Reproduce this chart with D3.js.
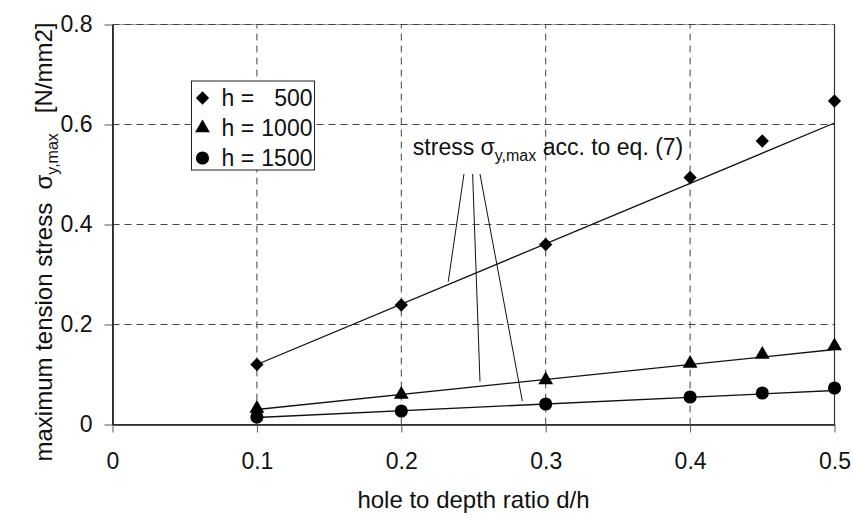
<!DOCTYPE html>
<html lang="en">
<head>
<meta charset="UTF-8">
<title>stress vs hole ratio</title>
<style>
  body { margin: 0; background: #fff; }
  text { font-family: Arial, "Liberation Sans", sans-serif; fill: #111; }
</style>
</head>
<body>
<script src="https://d3js.org/d3.v7.min.js"></script>
<script>
// values
const ratios = [0.1, 0.2, 0.3, 0.4, 0.45, 0.5];
const h500 = [0.12, 0.239, 0.36, 0.494, 0.567, 0.647];
const h1000 = [0.032, 0.06, 0.089, 0.122, 0.14, 0.157];
const h1500 = [0.015, 0.027, 0.041, 0.055, 0.063, 0.073];

// eq. (7) lines, value at d/h = 0.1 and 0.5
const eqRatios = [0.1, 0.5];
const eq500 = [0.12, 0.603];
const eq1000 = [0.03, 0.15];
const eq1500 = [0.014, 0.068];

const heights = [500, 1000, 1500];
const xTicks = [0, 0.1, 0.2, 0.3, 0.4, 0.5];
const yTicks = [0, 0.2, 0.4, 0.6, 0.8];

// leader lines of the note, from the text down to each line (d/h, stress)
const leaders = [
  [[0.2434, 0.501], [0.2325, 0.2856]],
  [[0.2494, 0.501], [0.2545, 0.0856]],
  [[0.2545, 0.501], [0.2838, 0.047]]
];

const width = 853, height = 518;
const fs = 23;

const svg = d3.create('svg')
  .attr('width', width)
  .attr('height', height);

const x = d3.scaleLinear().domain([0, 0.5]).range([112.5, 834.5]);
const y = d3.scaleLinear().domain([0, 0.8]).range([424.5, 24.5]);

// plot frame
svg.append('rect')
  .attr('x', x(0)).attr('y', y(0.8))
  .attr('width', x(0.5) - x(0)).attr('height', y(0) - y(0.8))
  .attr('fill', 'none').attr('stroke', '#999').attr('stroke-width', 1);

// dashed grid
svg.append('g').selectAll('line')
  .data(yTicks.filter(d => d > 0))
  .join('line')
    .attr('x1', x(0)).attr('x2', x(0.5))
    .attr('y1', d => y(d)).attr('y2', d => y(d))
    .attr('stroke', '#444').attr('stroke-dasharray', '7,5');
svg.append('g').selectAll('line')
  .data(xTicks.filter(d => d > 0))
  .join('line')
    .attr('x1', d => x(d)).attr('x2', d => x(d))
    .attr('y1', y(0)).attr('y2', y(0.8))
    .attr('stroke', '#444').attr('stroke-dasharray', '7,5');
// right edge is drawn solid
svg.append('line')
  .attr('x1', x(0.5)).attr('x2', x(0.5))
  .attr('y1', y(0)).attr('y2', y(0.8))
  .attr('stroke', '#333').attr('stroke-width', 1.2);

const fmt = d => d === 0 ? '0' : d.toFixed(1);

const xAxis = g => g
  .attr('transform', `translate(0,${y(0)})`)
  .call(d3.axisBottom(x).tickValues(xTicks).tickFormat(fmt).tickSize(8).tickPadding(20).tickSizeOuter(0))
  .call(g => g.select('.domain').attr('stroke', '#111').attr('stroke-width', 1.6))
  .call(g => g.selectAll('.tick line').attr('stroke', '#555'))
  .call(g => g.selectAll('text').attr('font-size', fs).attr('font-family', null).attr('fill', '#111'));

const yAxis = g => g
  .attr('transform', `translate(${x(0)},0)`)
  .call(d3.axisLeft(y).tickValues(yTicks).tickFormat(fmt).tickSize(8).tickPadding(12).tickSizeOuter(0))
  .call(g => g.select('.domain').attr('stroke', '#111').attr('stroke-width', 1.6))
  .call(g => g.selectAll('.tick line').attr('stroke', '#555'))
  .call(g => g.selectAll('text').attr('font-size', fs).attr('font-family', null).attr('fill', '#111'));

svg.append('g').call(xAxis);
svg.append('g').call(yAxis);

// eq. (7) lines
const line = d3.line().x(d => x(d[0])).y(d => y(d[1]));
[eq500, eq1000, eq1500].forEach(vals => {
  svg.append('path')
    .datum(eqRatios.map((r, i) => [r, vals[i]]))
    .attr('d', line)
    .attr('fill', 'none').attr('stroke', '#111').attr('stroke-width', 1.3);
});

// markers
const symbols = [
  d3.symbol(d3.symbolSquare, 88),
  d3.symbol(d3.symbolTriangle, 95),
  d3.symbol(d3.symbolCircle, 135)
];
const rotations = [45, 0, 0];
[h500, h1000, h1500].forEach((vals, k) => {
  svg.append('g').selectAll('path')
    .data(ratios.map((r, i) => [r, vals[i]]))
    .join('path')
      .attr('d', symbols[k])
      .attr('transform', d => `translate(${x(d[0])},${y(d[1])}) rotate(${rotations[k]})`)
      .attr('fill', '#000');
});

// leader lines and note
svg.append('g').selectAll('line')
  .data(leaders)
  .join('line')
    .attr('x1', d => x(d[0][0])).attr('y1', d => y(d[0][1]))
    .attr('x2', d => x(d[1][0])).attr('y2', d => y(d[1][1]))
    .attr('stroke', '#111').attr('stroke-width', 1);

const note = svg.append('text')
  .attr('x', x(0.208)).attr('y', y(0.539))
  .attr('font-size', fs);
note.append('tspan').text('stress σ');
note.append('tspan').attr('dy', 6).attr('font-size', 16).text('y,max');
note.append('tspan').attr('dy', -6).text(' acc. to eq. (7)');

// legend
const legend = svg.append('g').attr('transform', 'translate(191.5,81)');
legend.append('rect')
  .attr('width', 123).attr('height', 89)
  .attr('fill', '#fff').attr('stroke', '#222').attr('stroke-width', 1);
heights.forEach((h, k) => {
  const row = legend.append('g').attr('transform', `translate(0,${17 + k * 30})`);
  row.append('path')
    .attr('d', symbols[k])
    .attr('transform', `translate(11,0) rotate(${rotations[k]})`)
    .attr('fill', '#000');
  row.append('text').attr('x', 30).attr('dy', '0.35em').attr('font-size', fs).text('h =');
  row.append('text').attr('x', 121).attr('dy', '0.35em').attr('text-anchor', 'end')
    .attr('font-size', fs).text(h);
});

// axis titles
svg.append('text')
  .attr('x', (x(0) + x(0.5)) / 2).attr('y', 508)
  .attr('text-anchor', 'middle').attr('font-size', 24)
  .text('hole to depth ratio d/h');

const yTitle = svg.append('text')
  .attr('transform', 'translate(52,242) rotate(-90)')
  .attr('text-anchor', 'middle').attr('font-size', 24)
  .style('white-space', 'pre');
yTitle.append('tspan').text('maximum tension stress  σ');
yTitle.append('tspan').attr('dy', 6).attr('font-size', 16).text('y,max');
yTitle.append('tspan').attr('dy', -6).text('   [N/mm2]');

document.body.appendChild(svg.node());
</script>
</body>
</html>
